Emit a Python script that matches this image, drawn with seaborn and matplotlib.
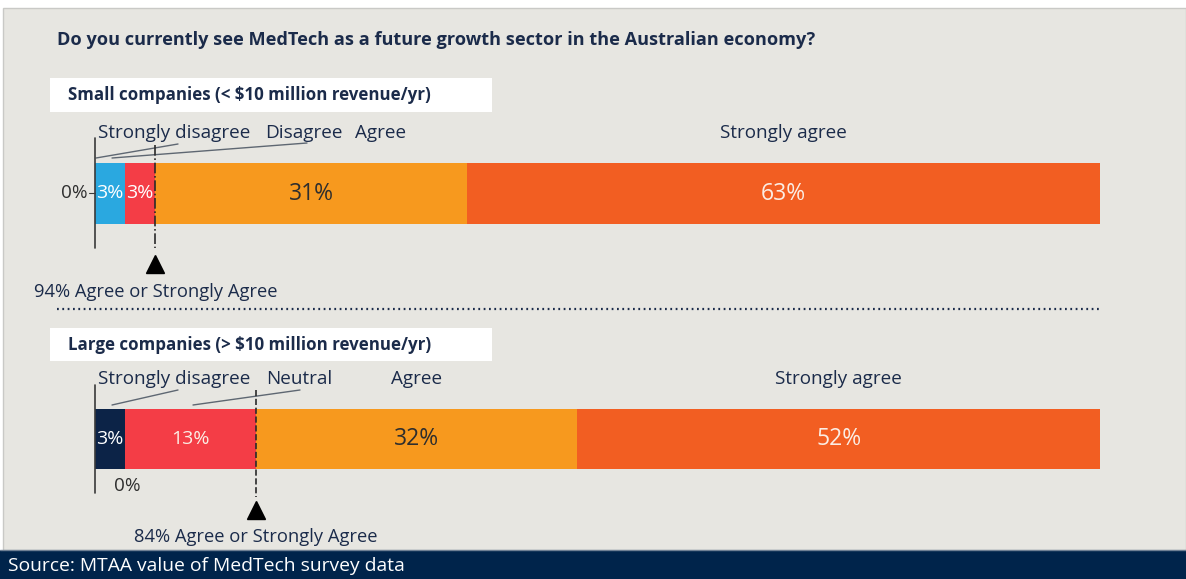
import numpy as np
import pandas as pd
import matplotlib
matplotlib.use("Agg")
import matplotlib.pyplot as plt
import seaborn as sns
from matplotlib.patches import Rectangle

# data
groups = ["Small", "Large"]
group_titles = ["Small companies (< $10 million revenue/yr)",
                "Large companies (> $10 million revenue/yr)"]
small_segments = ["Strongly disagree", "Disagree", "Agree", "Strongly agree"]
large_segments = ["Strongly disagree", "Neutral", "Agree", "Strongly agree"]
small_vals = [3, 3, 31, 63]
large_vals = [3, 13, 32, 52]
zero_label = "0%"
title = "Do you currently see MedTech as a future growth sector in the Australian economy?"
source = "Source: MTAA value of MedTech survey data"

# colours per segment, per group
small_colors = ["#2AA8E0", "#F43D46", "#F7991E", "#F25E22"]
large_colors = ["#0C2347", "#F43D46", "#F7991E", "#F25E22"]
small_txt = ["white", "white", "#2E2E2E", "#FBEDE4"]
large_txt = ["white", "#FBEDE4", "#2E2E2E", "#FBEDE4"]

NAVY = "#1B2B4A"
BG = "#E7E6E1"
W, H = 1186, 579

sns.set_theme(style="white")
plt.rcParams["font.family"] = ["Open Sans", "DejaVu Sans"]

rows = []
for g, vals in zip(groups, [small_vals, large_vals]):
    cum = np.cumsum(vals)
    for k, (v, c) in enumerate(zip(vals, cum)):
        rows.append({"group": g, "seg": k, "value": v, "cum": c, "start": c - v})
df = pd.DataFrame(rows)

fig = plt.figure(figsize=(W / 100, H / 100), dpi=100)
fig.patch.set_facecolor("white")
ax = fig.add_axes([0, 0, 1, 1])

# pixel -> data helpers (bar 0% at x=95px, 100% at x=1100px)
def fx(px):
    return (px - 95) / 10.05

def fy(py):
    return (py - 193.5) / 245.5

# stacked bars: draw cumulative totals from the outermost segment inwards
for k in reversed(range(4)):
    sub = df[df["seg"] == k]
    pal = {"Small": small_colors[k], "Large": large_colors[k]}
    sns.barplot(data=sub, x="cum", y="group", hue="group", palette=pal,
                order=groups, hue_order=groups, width=0.246, saturation=1,
                linewidth=0, legend=False, errorbar=None, ax=ax)

ax.set_xlim(fx(0), fx(W))
ax.set_ylim(fy(H), fy(0))
ax.axis("off")

# background panel and footer band
ax.add_patch(Rectangle((3 / W, 29 / H), (W - 3) / W, (550 - 8) / H,
                       transform=ax.transAxes, facecolor=BG,
                       edgecolor="#C9C9C6", lw=1, zorder=-10))
ax.add_patch(Rectangle((0, 0), 1, 29 / H, transform=ax.transAxes,
                       facecolor="#00244B", edgecolor="none", zorder=-9))
ax.plot([0, 1], [29 / H, 29 / H], transform=ax.transAxes, color="#6F8094", lw=1)

ax.text(fx(57), fy(40), title, fontsize=13.1, fontweight="bold",
        color=NAVY, va="center", ha="left")
ax.text(fx(8), fy(566), source, fontsize=13.9, color="white",
        va="center", ha="left")

# group header boxes
for gi, (py0, py1) in enumerate([(78, 112), (328, 361)]):
    ax.add_patch(Rectangle((fx(50), fy(py0)), fx(492) - fx(50), fy(py1) - fy(py0),
                           facecolor="white", edgecolor="none", zorder=1))
    ax.text(fx(68), fy((py0 + py1) / 2), group_titles[gi], fontsize=12.2,
            fontweight="bold", color=NAVY, va="center", ha="left", zorder=2)

# dotted separator
ax.plot([fx(57), fx(1100)], [fy(309), fy(309)], color=NAVY, lw=1.6,
        ls=(0, (0.8, 1.6)))

# values inside the bars
for gi, (vals, tcols) in enumerate([(small_vals, small_txt), (large_vals, large_txt)]):
    sub = df[df["group"] == groups[gi]]
    for _, r in sub.iterrows():
        size = 16.5 if r["value"] >= 20 else 14
        ax.text((r["start"] + r["cum"]) / 2, gi, f"{r['value']}%", fontsize=size,
                color=tcols[r["seg"]], ha="center", va="center", zorder=5)

# segment labels above the bars
lab_kw = dict(fontsize=13.6, color=NAVY, va="center")
ax.text(fx(98), fy(133), small_segments[0], ha="left", **lab_kw)
ax.text(fx(265), fy(133), small_segments[1], ha="left", **lab_kw)
ax.text(fx(355), fy(133), small_segments[2], ha="left", **lab_kw)
ax.text(fx(783), fy(133), small_segments[3], ha="center", **lab_kw)
ax.text(fx(98), fy(379), large_segments[0], ha="left", **lab_kw)
ax.text(fx(266), fy(379), large_segments[1], ha="left", **lab_kw)
ax.text(fx(417), fy(379), large_segments[2], ha="center", **lab_kw)
ax.text(fx(838), fy(379), large_segments[3], ha="center", **lab_kw)

# leader lines
lead_kw = dict(color="#5E6772", lw=1)
for (x0, y0, x1, y1) in [(96, 158, 178, 144), (112, 158, 307, 143),
                         (112, 405, 178, 390), (193, 405, 300, 390)]:
    ax.plot([fx(x0), fx(x1)], [fy(y0), fy(y1)], **lead_kw)

# zero axis lines and 0% labels
ax.plot([0, 0], [fy(138), fy(248)], color="#3A3A3A", lw=1.2)
ax.plot([0, 0], [fy(385), fy(493)], color="#3A3A3A", lw=1.2)
ax.plot([fx(89), 0], [fy(193), fy(193)], color="#3A3A3A", lw=0.8)
ax.text(fx(88), fy(193), zero_label, fontsize=13.6, color="#2E2E2E",
        ha="right", va="center")
ax.text(fx(127), fy(486), zero_label, fontsize=13.6, color="#2E2E2E",
        ha="center", va="center")

# agree-or-strongly-agree markers
for gi, (vals, ls, top, bot, tri, lab) in enumerate([
        (small_vals, "-.", 145, 248, 264, 292),
        (large_vals, "--", 390, 497, 510, 537)]):
    cut = vals[0] + vals[1]
    agree = vals[2] + vals[3]
    ax.plot([cut, cut], [fy(top), fy(bot)], color="#2A2A2A", lw=1.2, ls=ls, zorder=6)
    ax.plot([cut], [fy(tri)], marker="^", ms=13, color="black", zorder=6)
    ax.text(cut, fy(lab), f"{agree}% Agree or Strongly Agree", fontsize=13.2,
            color=NAVY, ha="center", va="center")

fig.savefig("out.png", dpi=100, facecolor=fig.get_facecolor())
plt.close(fig)
print("Done: out.png")
